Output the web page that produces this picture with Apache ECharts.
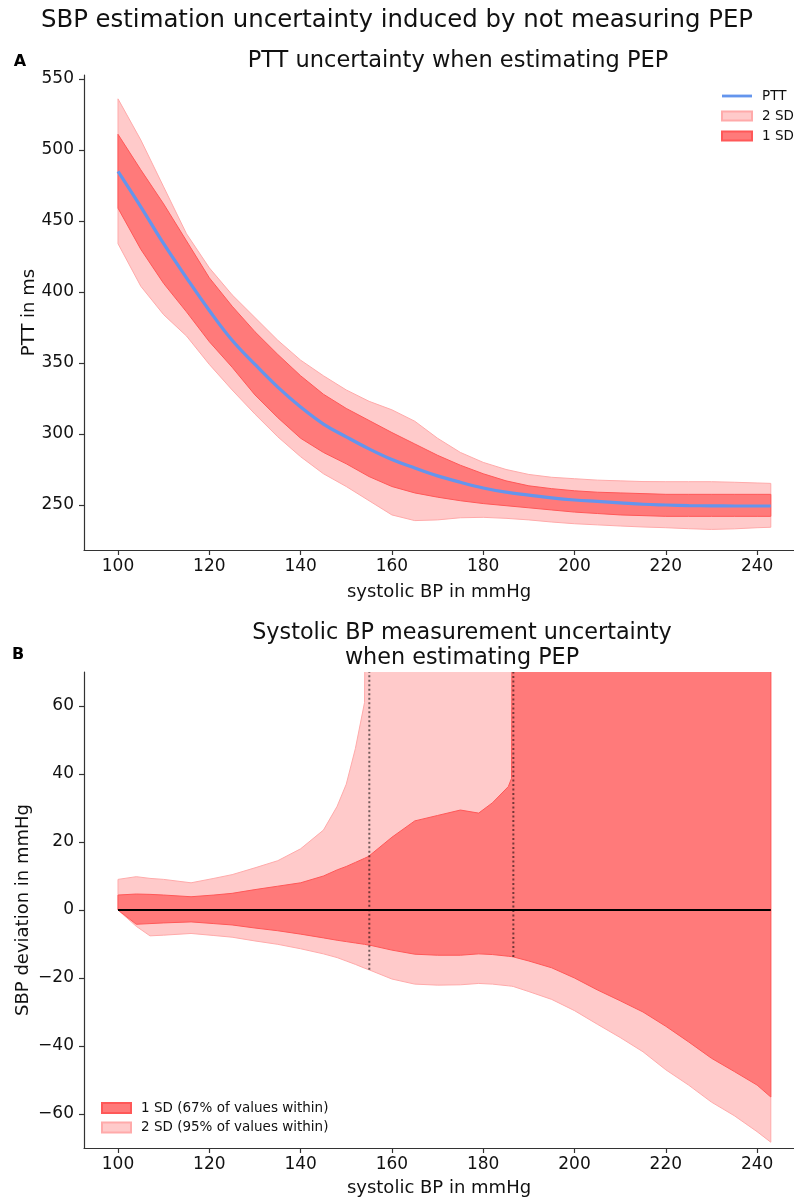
<!DOCTYPE html>
<html>
<head>
<meta charset="utf-8">
<script src="https://cdn.jsdelivr.net/npm/echarts@6/dist/echarts.min.js"></script>
<style>
html, body { margin: 0; padding: 0; background: #fff; }
#main { width: 794px; height: 1198px; }
</style>
</head>
<body>
<div id="main"></div>
<script>
// ---- panel A : PTT against systolic BP ----
var sbpA = [100, 105, 110, 115, 120, 125, 130, 135, 140, 145, 150, 155, 160, 165, 170,
            175, 180, 185, 190, 195, 200, 205, 210, 215, 220, 225, 230, 235, 240, 243];
var pttMean = [485, 460, 434, 410, 387, 366, 349, 333, 319, 307, 298, 289.5, 282, 276, 270.5,
               266, 262, 259, 257, 255, 253.5, 252.5, 251.5, 250.5, 250, 249.6, 249.4, 249.3, 249.3, 249.3];
var ptt1Hi = [511, 486, 462, 436, 410, 390, 372, 356, 341, 328, 318, 309.5, 301, 293, 285,
              278, 272, 267, 263.5, 261.5, 260, 259, 258.5, 258, 257.5, 257.5, 257.5, 257.5, 257.5, 257.5];
var ptt1Lo = [459, 430, 406, 386, 365, 347, 327.5, 311.5, 297, 287, 279, 270, 263, 258.5, 255.5,
              253, 251, 249.5, 248, 246.5, 245, 244, 243, 242.5, 242, 242, 242, 242, 242, 242];
var ptt2Hi = [536, 507, 474, 441, 417, 398, 382, 366, 352, 341, 331, 323, 317, 309, 297,
              287, 280, 275, 271.5, 269.5, 268.5, 267.5, 267, 266.5, 266.4, 266.4, 266.4, 266, 265.5, 265.2];
var ptt2Lo = [434, 404, 384, 369, 349, 331, 314, 298, 284, 272, 263, 253, 243, 239, 239.5,
              241, 241.3, 240.6, 239.5, 238, 236.8, 236, 235.2, 234.5, 234, 233.3, 232.8, 233.2, 234, 234.3];

// ---- panel B : SBP deviation (null = band is unbounded above) ----
var sbpB = [100, 104, 107, 110, 116, 121, 125, 130, 135, 140, 145, 148, 150, 152, 154, 154.8, 155, 160, 165, 170,
            175, 179, 182, 185.5, 186.2, 186.6, 190, 195, 200, 205, 210, 215, 220, 225, 230, 235, 240, 243];
var dev2Hi = [9.0, 9.8, 9.3, 9.0, 8.0, 9.3, 10.4, 12.4, 14.5, 18.0, 23.5, 30.5, 37, 47.5, 61, null, null, null, null, null,
              null, null, null, null, null, null, null, null, null, null, null, null, null, null, null, null, null, null];
var dev1Hi = [4.4, 4.7, 4.6, 4.4, 3.9, 4.4, 4.9, 6.0, 7.0, 8.0, 10.0, 11.8, 12.8, 14.0, 15.2, 15.7, 15.9, 21.4, 26.2, 27.8,
              29.4, 28.5, 31.5, 36.3, 38.7, null, null, null, null, null, null, null, null, null, null, null, null, null];
var dev1Lo = [0, -4.2, -4.0, -3.8, -3.5, -4.0, -4.4, -5.3, -6.1, -7.1, -8.2, -8.9, -9.3, -9.7, -10.1, -10.3, -10.3, -11.8, -13.0, -13.3,
              -13.3, -12.9, -13.1, -13.6, -13.7, -13.8, -15, -17, -20, -23.5, -26.7, -30, -34.2, -38.8, -43.6, -47.5, -51.5, -55];
var dev2Lo = [0, -4.8, -7.6, -7.4, -6.9, -7.5, -8.0, -9.1, -10.1, -11.4, -12.9, -14.0, -15.0, -16.0, -17.1, -17.5, -17.6, -20.3, -21.8, -22.1,
              -22.0, -21.6, -21.8, -22.3, -22.4, -22.5, -24, -26.3, -29.6, -33.6, -37.5, -41.7, -47, -51.5, -56.5, -60.5, -65.2, -68.3];
// where the upper bounds run off to infinity
var breakX = [155.05, 186.6];
var breakLo = [-17.6, -13.8];

var ticksX = [100, 120, 140, 160, 180, 200, 220, 240];
var ticksA = [250, 300, 350, 400, 450, 500, 550];
var ticksB = [-60, -40, -20, 0, 20, 40, 60];

var B_MAX = 70, OFF_TOP = 200;
var FONT = 'DejaVu Sans';
var LIGHT = '#ffcaca', LIGHT_EDGE = '#ffaaaa';
var DARK = '#ff7a7a', DARK_EDGE = '#ff5858';
var AXIS = '#333';

function fmt(v) { return v < 0 ? '\u2212' + (-v) : '' + v; }

function band(name, panel, xs, lo, hi, fill, edge) {
	return {
		type: 'custom',
		name: name,
		xAxisIndex: panel,
		yAxisIndex: panel,
		clip: true,
		silent: true,
		itemStyle: { color: fill, borderColor: edge, borderWidth: 1 },
		data: xs.map(function (x, i) { return [x, lo[i]]; }),
		renderItem: function (params, api) {
			if (params.dataIndex !== 0) return null;
			var pts = [];
			for (var i = 0; i < xs.length; i++) {
				pts.push(api.coord([xs[i], hi[i] == null ? OFF_TOP : hi[i]]));
			}
			for (var j = xs.length - 1; j >= 0; j--) {
				pts.push(api.coord([xs[j], lo[j]]));
			}
			return { type: 'polygon', shape: { points: pts }, style: { fill: fill, stroke: edge, lineWidth: 1 } };
		}
	};
}

function xAxisOf(i) {
	return {
		type: 'value', gridIndex: i, min: 92.55, max: 248.08,
		name: 'systolic BP in mmHg', nameLocation: 'middle', nameGap: i === 0 ? 33 : 31,
		nameMoveOverlap: false,
		nameTextStyle: { fontFamily: FONT, fontSize: 18, color: '#111' },
		axisLine: { show: true, onZero: false, lineStyle: { color: AXIS, width: 1.2 } },
		axisTick: { show: true, length: 5, customValues: ticksX, lineStyle: { color: AXIS, width: 1.2 } },
		axisLabel: { customValues: ticksX, margin: 8, fontFamily: FONT, fontSize: 17, color: '#111' },
		splitLine: { show: false }
	};
}

function yAxisOf(i, min, max, ticks, name, gap) {
	return {
		type: 'value', gridIndex: i, min: min, max: max,
		name: name, nameLocation: 'middle', nameGap: gap,
		nameMoveOverlap: false,
		nameTextStyle: { fontFamily: FONT, fontSize: 18, color: '#111' },
		axisLine: { show: true, onZero: false, lineStyle: { color: AXIS, width: 1.2 } },
		axisTick: { show: true, length: 5, customValues: ticks, lineStyle: { color: AXIS, width: 1.2 } },
		axisLabel: { customValues: ticks, margin: 10, fontFamily: FONT, fontSize: 17, color: '#111', formatter: fmt },
		splitLine: { show: false }
	};
}

var chart = echarts.init(document.getElementById('main'));

var series = [
	band('2 SD', 0, sbpA, ptt2Lo, ptt2Hi, LIGHT, LIGHT_EDGE),
	band('1 SD', 0, sbpA, ptt1Lo, ptt1Hi, DARK, DARK_EDGE),
	{
		type: 'line', name: 'PTT', xAxisIndex: 0, yAxisIndex: 0,
		data: sbpA.map(function (x, i) { return [x, pttMean[i]]; }),
		symbol: 'none', smooth: 0.4, color: '#6495ed',
		lineStyle: { color: '#6495ed', width: 3.2 }
	},
	band('2 SD (95% of values within)', 1, sbpB, dev2Lo, dev2Hi, LIGHT, LIGHT_EDGE),
	band('1 SD (67% of values within)', 1, sbpB, dev1Lo, dev1Hi, DARK, DARK_EDGE)
];
breakX.forEach(function (x, i) {
	series.push({
		type: 'line', xAxisIndex: 1, yAxisIndex: 1, symbol: 'none', silent: true,
		data: [[x, breakLo[i]], [x, B_MAX]],
		lineStyle: { color: 'rgba(0,0,0,0.55)', width: 2, type: [2, 2.5] }
	});
});
series.push({
	type: 'line', xAxisIndex: 1, yAxisIndex: 1, symbol: 'none', silent: true,
	data: [[sbpB[0], 0], [sbpB[sbpB.length - 1], 0]],
	lineStyle: { color: '#000', width: 2.2 }
});

var option = {
	animation: false,
	backgroundColor: '#fff',
	grid: [
		{ left: 84, right: 0, top: 75, height: 475 },
		{ left: 84, right: 0, top: 672, height: 476 }
	],
	xAxis: [xAxisOf(0), xAxisOf(1)],
	yAxis: [
		yAxisOf(0, 218.3, 552.8, ticksA, 'PTT in ms', 46),
		yAxisOf(1, -B_MAX, B_MAX, ticksB, 'SBP deviation in mmHg', 52)
	],
	legend: [
		{
			orient: 'vertical', left: 716, top: 84, selectedMode: false,
			itemWidth: 30, itemHeight: 9, itemGap: 6,
			textStyle: { fontFamily: FONT, fontSize: 13.5, color: '#111', lineHeight: 14, padding: [0, 0, 0, 5] },
			data: [
				{ name: 'PTT', icon: 'path://M0,0H32V3H0Z' },
				{ name: '2 SD', icon: 'rect' },
				{ name: '1 SD', icon: 'rect' }
			]
		},
		{
			orient: 'vertical', left: 96, top: 1096, selectedMode: false,
			itemWidth: 29, itemHeight: 10, itemGap: 5.5,
			textStyle: { fontFamily: FONT, fontSize: 13.5, color: '#111', lineHeight: 14, padding: [0, 0, 0, 5] },
			data: [
				{ name: '1 SD (67% of values within)', icon: 'rect' },
				{ name: '2 SD (95% of values within)', icon: 'rect' }
			]
		}
	],
	graphic: [
		{ type: 'text', x: 397, y: 21, style: { text: 'SBP estimation uncertainty induced by not measuring PEP',
			fontFamily: FONT, fontSize: 24.4, fill: '#111', align: 'center', verticalAlign: 'middle' } },
		{ type: 'text', x: 20, y: 62, style: { text: 'A', fontFamily: FONT, fontSize: 16, fontWeight: 'bold',
			fill: '#000', align: 'center', verticalAlign: 'middle' } },
		{ type: 'text', x: 458, y: 61, style: { text: 'PTT uncertainty when estimating PEP',
			fontFamily: FONT, fontSize: 22.5, fill: '#111', align: 'center', verticalAlign: 'middle' } },
		{ type: 'text', x: 18, y: 655, style: { text: 'B', fontFamily: FONT, fontSize: 16, fontWeight: 'bold',
			fill: '#000', align: 'center', verticalAlign: 'middle' } },
		{ type: 'text', x: 462, y: 646, style: { text: 'Systolic BP measurement uncertainty\nwhen estimating PEP',
			fontFamily: FONT, fontSize: 22.3, lineHeight: 25, fill: '#111', align: 'center', verticalAlign: 'middle' } }
	],
	series: series
};

chart.setOption(option);
</script>
</body>
</html>
